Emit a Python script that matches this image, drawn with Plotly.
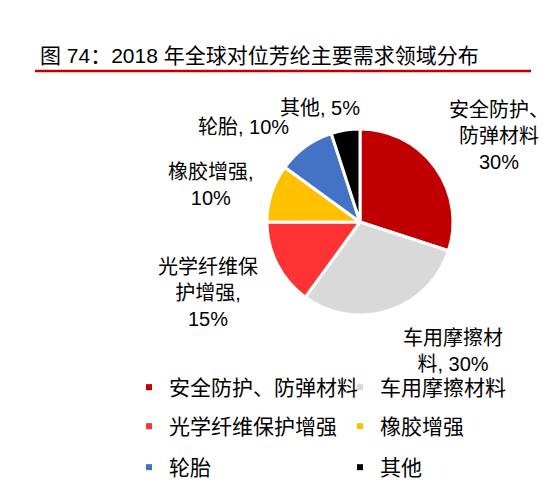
import plotly.graph_objects as go

title_text = "图 74：2018 年全球对位芳纶主要需求领域分布"
categories = ["安全防护、防弹材料", "车用摩擦材料", "光学纤维保护增强", "橡胶增强", "轮胎", "其他"]
values = [30, 30, 15, 10, 10, 5]
colors = ["#C00000", "#D9D9D9", "#FF3333", "#FFC000", "#4472C4", "#000000"]
# label text split into lines as in the reference
label_lines = [
    ["安全防护、", "防弹材料", "{v}%"],
    ["车用摩擦材", "料, {v}%"],
    ["光学纤维保", "护增强,", "{v}%"],
    ["橡胶增强,", "{v}%"],
    ["轮胎, {v}%"],
    ["其他, {v}%"],
]
# label centre positions (screen pixels from top-left)
label_pos = [(499, 136), (453, 351), (208, 293), (211, 185), (243, 127), (320, 108)]

W, H = 554, 504
OFF = 8  # page body margin of the html page
FONT = "Liberation Sans, Noto Sans CJK SC, Arial, sans-serif"


def fx(px):
    return (px - OFF) / W


def fy(py):
    return 1 - (py - OFF) / H


fig = go.Figure()
fig.add_trace(go.Pie(
    labels=categories, values=values, sort=False, direction="clockwise",
    rotation=0, textinfo="none", hoverinfo="label+percent",
    marker=dict(colors=colors, line=dict(color="white", width=3)),
    domain=dict(x=[fx(267), fx(453)], y=[fy(315), fy(129)]),
    showlegend=False,
))
legend_names = ["legend", "legend", "legend2", "legend2", "legend3", "legend3"]
for c, col, lg in zip(categories, colors, legend_names):
    fig.add_trace(go.Scatter(x=[None], y=[None], mode="markers", name=c,
                             marker=dict(symbol="square", size=6, color=col),
                             showlegend=True, legend=lg))

for lines, v, (px, py) in zip(label_lines, values, label_pos):
    txt = "<br>".join(l.format(v=v) for l in lines)
    fig.add_annotation(text=txt, x=fx(px), y=fy(py), xref="paper", yref="paper",
                       xanchor="center", yanchor="middle", showarrow=False,
                       align="center", font=dict(size=20, color="#000000", family=FONT))

fig.add_annotation(text=title_text, x=fx(38), y=fy(55), xref="paper", yref="paper",
                   xanchor="left", yanchor="middle", showarrow=False,
                   font=dict(size=21, color="#000000", family=FONT))
fig.add_shape(type="line", xref="paper", yref="paper", x0=fx(35), x1=fx(531),
              y0=fy(71), y1=fy(71), line=dict(color="#C00000", width=2.5))

legend_style = dict(orientation="h", xanchor="left", yanchor="top",
                    entrywidth=166, entrywidthmode="pixels",
                    font=dict(size=21, color="#000000", family=FONT),
                    bgcolor="rgba(0,0,0,0)")
fig.update_layout(
    width=W, height=H, margin=dict(l=0, r=0, t=0, b=0, autoexpand=False),
    paper_bgcolor="white", plot_bgcolor="white",
    xaxis=dict(visible=False), yaxis=dict(visible=False),
    legend=dict(x=fx(129), y=fy(367), **legend_style),
    legend2=dict(x=fx(129), y=fy(406), **legend_style),
    legend3=dict(x=fx(129), y=fy(447), **legend_style),
)
fig.write_html("out.html")
